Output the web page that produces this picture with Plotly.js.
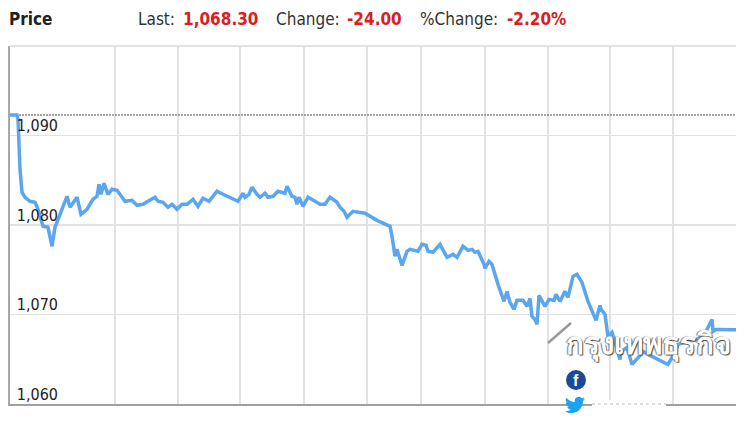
<!DOCTYPE html>
<html><head><meta charset="utf-8">
<script src="https://cdn.plot.ly/plotly-3.0.1.min.js"></script>
<style>html,body{margin:0;padding:0;background:#fff}#c{width:750px;height:422px}</style>
</head><body><div id="c"></div>
<script>
var timeIdx=[0,7,8,10,12,15,20,25,28,33,38,42,45,50,57,60,67,71,77,83,87,89,91,94,98,102,107,115,122,127,133,138,145,148,153,158,162,167,172,177,183,188,193,199,207,213,222,228,233,235,239,242,247,250,255,258,263,268,275,277,282,285,287,289,293,298,305,310,315,320,327,330,334,337,343,353,355,367,380,382,385,387,392,397,400,408,412,416,418,423,430,437,443,447,453,458,462,465,468,474,475,479,482,488,494,497,500,504,507,513,517,520,522,525,527,529,535,539,544,546,550,555,558,563,567,572,578,586,590,591,595,598,602,610,611,617,622,631,633,638,658,665,668,693,702,703,706,708,726];
var price=[1092.3,1092.3,1091.82,1086.23,1083.66,1083.1,1082.65,1082.54,1081.76,1079.85,1079.74,1077.62,1079.74,1081.2,1083.21,1081.98,1083.1,1081.2,1081.76,1082.87,1083.21,1084.55,1083.43,1084.66,1083.43,1083.99,1083.88,1082.65,1082.76,1082.2,1082.32,1082.65,1083.1,1082.65,1082.54,1081.98,1082.32,1081.76,1082.32,1082.32,1082.87,1082.09,1082.99,1082.65,1083.77,1083.43,1082.99,1082.65,1083.55,1083.1,1083.43,1084.22,1083.43,1083.1,1083.55,1083.1,1083.21,1083.77,1083.55,1084.33,1083.21,1083.1,1082.32,1083.1,1082.09,1083.1,1082.65,1082.32,1082.32,1083.1,1082.54,1081.98,1081.53,1080.86,1081.53,1081.42,1081.31,1080.52,1079.85,1078.74,1076.5,1077.28,1075.49,1077.06,1077.28,1077.06,1077.84,1077.73,1077.06,1076.95,1077.84,1076.39,1076.72,1076.39,1077.62,1077.17,1077.28,1076.95,1077.06,1075.6,1075.16,1075.94,1075.6,1073.37,1071.47,1072.58,1071.35,1070.57,1071.58,1071.58,1070.91,1071.8,1069.79,1069.45,1068.89,1072.14,1070.91,1071.69,1071.58,1072.25,1071.47,1072.58,1071.91,1074.26,1074.49,1073.59,1071.47,1069.34,1071.02,1070.57,1070.01,1067.55,1068,1064.98,1065.87,1066.32,1064.42,1065.54,1065.87,1065.54,1064.42,1065.76,1066.66,1067.44,1069.45,1068.11,1068.33,1068.33,1068.3];
var prevClose=1092.3;
var gridTimes=[42,105,168,230,294,357,411,475,538,600,663];
var priceTicks=[1060,1070,1080,1090,1100];
var priceLabels=['1,060','1,070','1,080','1,090',''];
var headerLabels=[['Price',9,true,'#222'],['Last:',138,false,'#333'],['1,068.30',183,true,'#d8201f'],['Change:',276,false,'#333'],['-24.00',347,true,'#d8201f'],['%Change:',420,false,'#333'],['-2.20%',507,true,'#d8201f']];
var watermark='กรุงเทพธุรกิจ';
var W=726,L=10;
var bird="data:image/svg+xml;utf8,"+encodeURIComponent('<svg xmlns="http://www.w3.org/2000/svg" viewBox="0 0 24 24"><path fill="#1da1f2" d="M23.95 4.57a10 10 0 0 1-2.83.78 4.96 4.96 0 0 0 2.17-2.73 9.9 9.9 0 0 1-3.13 1.2 4.92 4.92 0 0 0-8.4 4.49A14 14 0 0 1 1.64 3.16a4.92 4.92 0 0 0 1.52 6.57 4.9 4.9 0 0 1-2.23-.62v.06a4.92 4.92 0 0 0 3.95 4.83 5 5 0 0 1-2.21.08 4.93 4.93 0 0 0 4.6 3.42A9.87 9.87 0 0 1 0 19.54a14 14 0 0 0 7.56 2.21c9.05 0 14-7.5 14-13.98l-.02-.64a10 10 0 0 0 2.41-2.56z"/></svg>');
var anns=headerLabels.map(function(h){return {text:h[2]?'<b>'+h[0]+'</b>':h[0],xref:'paper',yref:'paper',x:(h[1]-L)/W,y:(404-19)/358,xanchor:'left',yanchor:'middle',xshift:-2,showarrow:false,font:{family:'"DejaVu Sans Condensed","DejaVu Sans",sans-serif',size:17,color:h[3]}};});
anns.push({text:'<b>'+watermark+'</b>',xref:'paper',yref:'paper',x:(648-L)/W,y:(404-345)/358,xanchor:'center',yanchor:'middle',yshift:3,showarrow:false,font:{family:'"Noto Sans","DejaVu Sans",sans-serif',size:29.5,color:'#ffffff',shadow:'1px 1px 1px #444, -1px 0 1px #777'}});
anns.push({text:'<b>f</b>',xref:'paper',yref:'paper',x:(576-L)/W,y:(404-380)/358,xanchor:'center',yanchor:'middle',showarrow:false,font:{family:'"Liberation Sans",sans-serif',size:16,color:'#ffffff'}});
var layout={width:750,height:422,margin:{l:L,r:14,t:46,b:18},paper_bgcolor:'#fff',plot_bgcolor:'#fff',showlegend:false,
xaxis:{range:[0,W],tickmode:'array',tickvals:gridTimes,showticklabels:false,ticks:'',showgrid:true,gridcolor:'#e2e2e2',gridwidth:1.5,showline:true,linecolor:'#a0a0a0',linewidth:2,zeroline:false},
yaxis:{range:[1060,1100],tickmode:'array',tickvals:priceTicks,ticktext:priceLabels,ticks:'',ticklabelposition:'inside',ticklabelshift:-10,ticklabelstandoff:7,showgrid:true,gridcolor:'#e2e2e2',gridwidth:1.5,showline:true,linecolor:'#a8a8a8',linewidth:2,zeroline:false,tickfont:{family:'"DejaVu Sans Condensed","DejaVu Sans",sans-serif',size:16,color:'#222'}},
shapes:[
{type:'line',xref:'paper',yref:'paper',x0:0,x1:1,y0:1,y1:1,line:{color:'#e2e2e2',width:2}},
{type:'line',xref:'paper',yref:'paper',x0:(548-L)/W,x1:(571-L)/W,y0:(404-343)/358,y1:(404-323)/358,line:{color:'#999',width:2.5}},
{type:'circle',xref:'paper',yref:'paper',x0:(566-L)/W,x1:(586-L)/W,y0:(404-390)/358,y1:(404-370)/358,fillcolor:'#1c4a94',line:{width:0}},
{type:'rect',xref:'paper',yref:'paper',x0:(592-L)/W,x1:(666-L)/W,y0:-4/358,y1:4/358,fillcolor:'#fff',line:{width:0}},
{type:'line',xref:'paper',yref:'paper',x0:(592-L)/W,x1:(666-L)/W,y0:0,y1:0,line:{color:'#bbb',width:1,dash:'dot'}}
],
images:[{source:bird,xref:'paper',yref:'paper',x:(565-L)/W,y:(404-395)/358,sizex:20/W,sizey:20/358,xanchor:'left',yanchor:'top',sizing:'stretch',layer:'above'}],
annotations:anns};
Plotly.newPlot('c',[
{x:[0,W],y:[prevClose,prevClose],mode:'lines',line:{color:'#8a8a8a',width:1.5,dash:'2px,1px'},hoverinfo:'skip'},
{x:timeIdx,y:price,mode:'lines',line:{color:'#5ba6ef',width:3.5,shape:'linear'}}
],layout,{displayModeBar:false,staticPlot:true});
</script></body></html>
